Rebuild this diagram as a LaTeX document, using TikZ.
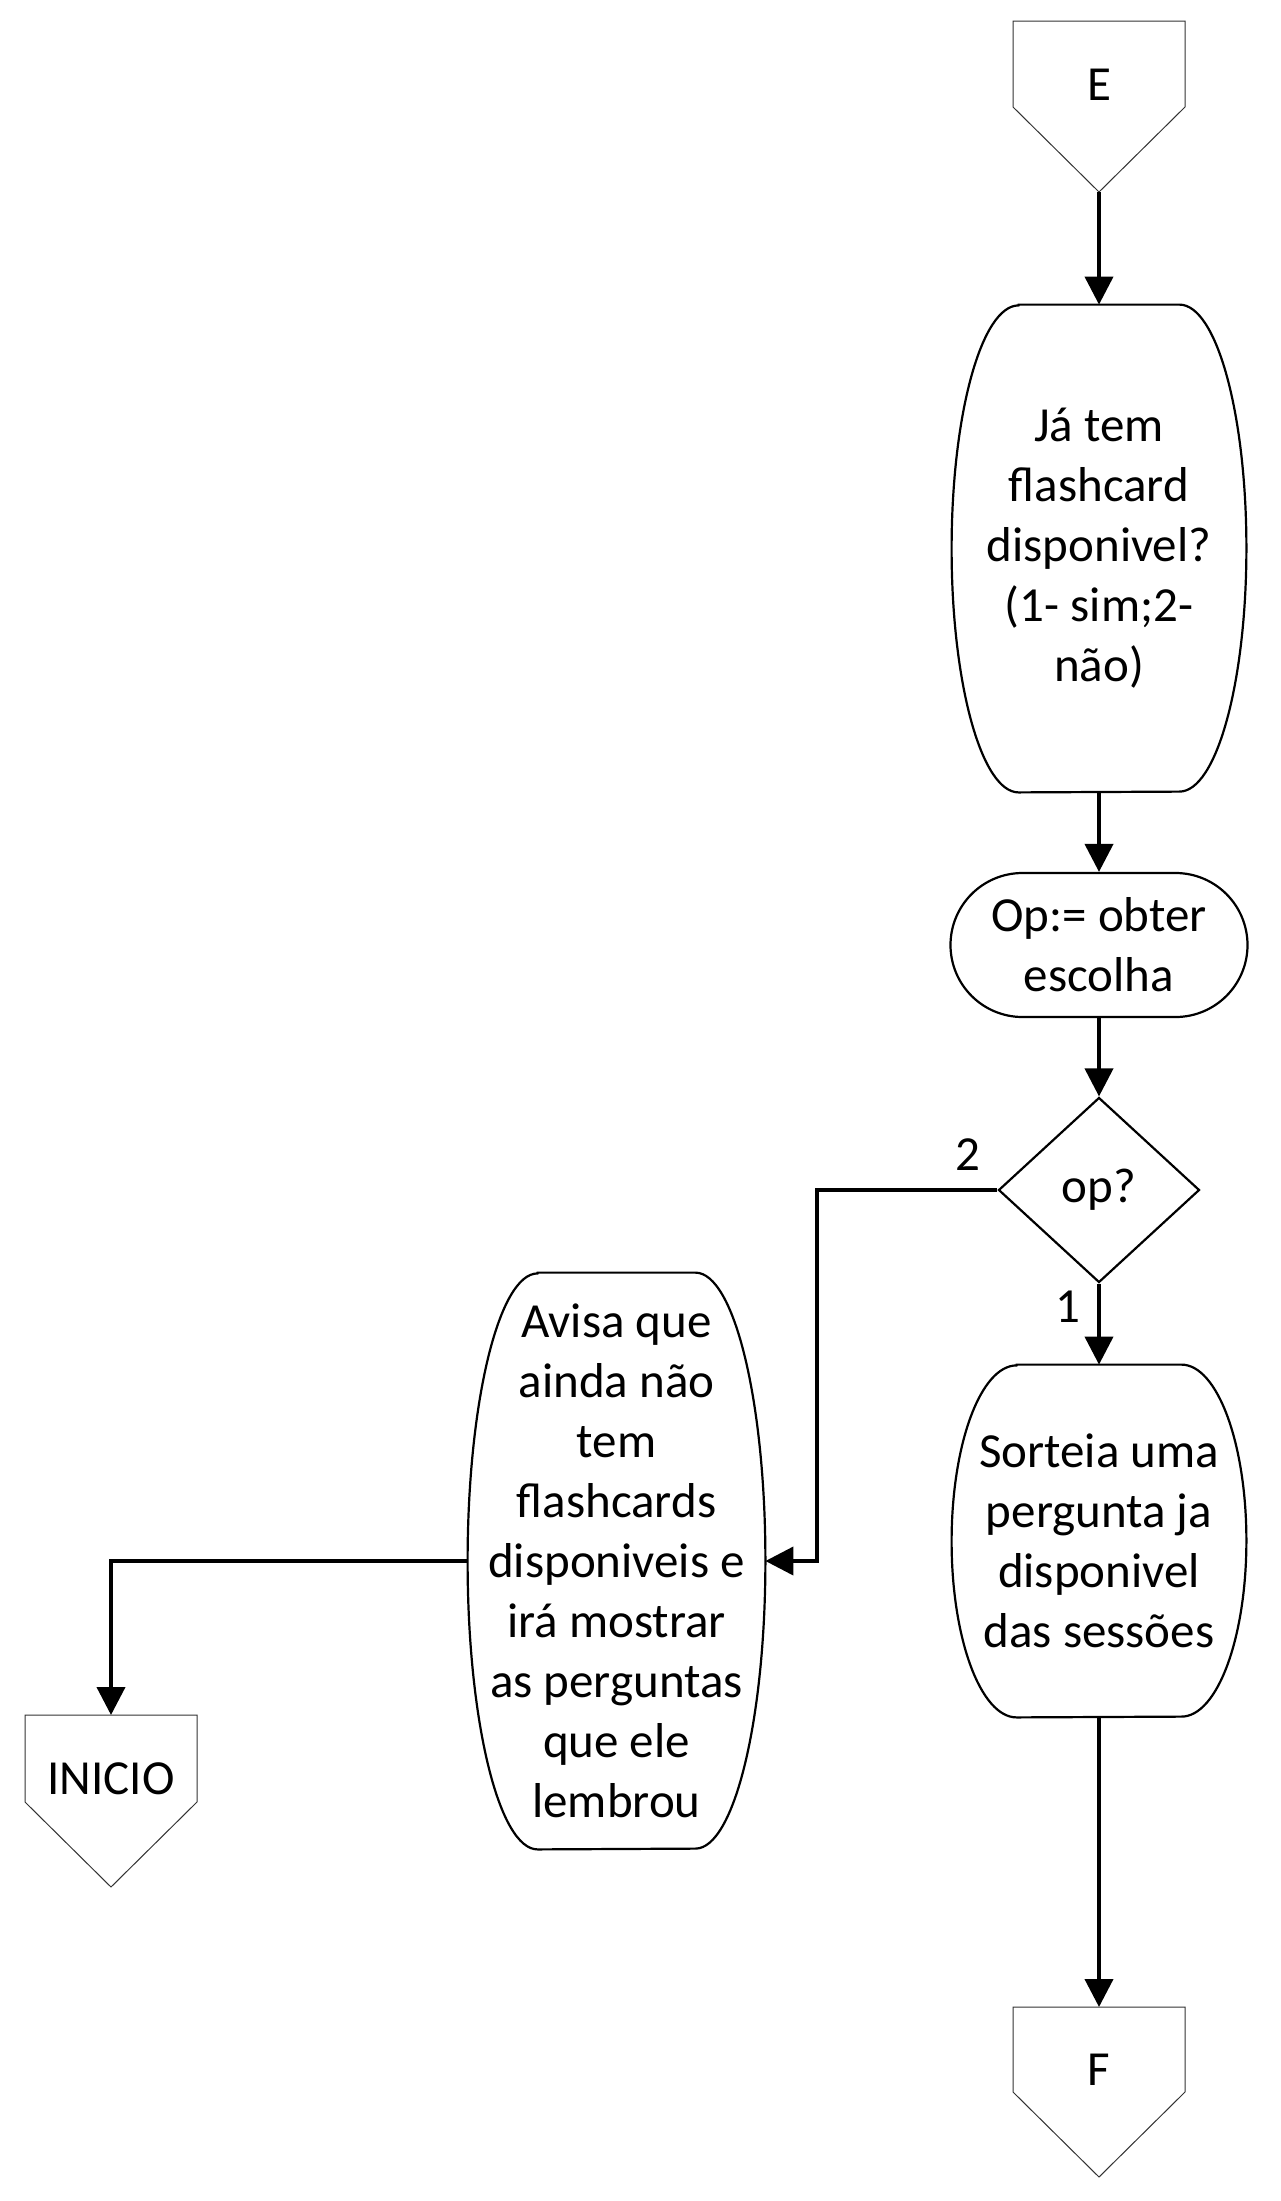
\documentclass[tikz,border=0pt]{standalone}
\usepackage{fontspec}
\setmainfont{Carlito}
\usetikzlibrary{arrows.meta,calc,shapes.geometric,shapes.misc}
\begin{document}
\begin{tikzpicture}[x=0.5pt,y=-0.5pt,
  txt/.style={font=\fontsize{24.5}{30}\selectfont, align=center, inner sep=0pt},
  conn/.style={line width=2pt, -{Triangle[length=14pt,width=14pt]}},
  boxline/.style={line width=1.1pt},
  offpage/.style={line width=0.5pt, draw=black!80},
]
\useasboundingbox[fill=white] (0,0) rectangle (1280,2201);

% E off-page connector
\draw[offpage] (1013,21) -- (1185,21) -- (1185,107) -- (1099,192) -- (1013,107) -- cycle;
\coordinate (Etip) at (1099,192);
\node[txt] (E) at (1099,85) {E};

% box 1
\node[txt, minimum width=147pt, minimum height=243.5pt] (b1) at (1099,548.5)
  {Já tem\\flashcard\\disponivel?\\(1- sim;2-\\não)};
\draw[boxline] ($(b1.north west)+(67,0)$) -- ($(b1.north east)+(-67,0)$)
  arc[start angle=90,end angle=-90,x radius=33.5pt,y radius=121.75pt]
  -- ($(b1.south west)+(67,0)$)
  arc[start angle=270,end angle=90,x radius=33.5pt,y radius=121.75pt] -- cycle;

% Op box
\node[txt, rounded rectangle, draw, line width=1.1pt, minimum width=148.5pt, minimum height=72pt] (op) at (1099,945)
  {Op:= obter\\escolha};

% decision
\node[txt, diamond, draw, line width=1.1pt, minimum width=100.5pt, minimum height=92.5pt, aspect=1.09] (d) at (1099,1190) {op?};

% Sorteia box
\node[txt, minimum width=147pt, minimum height=176pt] (sort) at (1099,1541)
  {Sorteia uma\\pergunta ja\\disponivel\\das sessões};
\draw[boxline] ($(sort.north west)+(65,0)$) -- ($(sort.north east)+(-65,0)$)
  arc[start angle=90,end angle=-90,x radius=32.5pt,y radius=88pt]
  -- ($(sort.south west)+(65,0)$)
  arc[start angle=270,end angle=90,x radius=32.5pt,y radius=88pt] -- cycle;

% Avisa box
\node[txt, minimum width=148.5pt, minimum height=288pt] (avisa) at (616.5,1561)
  {Avisa que\\ainda não\\tem\\flashcards\\disponiveis e\\irá mostrar\\as perguntas\\que ele\\lembrou};
\draw[boxline] ($(avisa.north west)+(70,0)$) -- ($(avisa.north east)+(-70,0)$)
  arc[start angle=90,end angle=-90,x radius=35pt,y radius=144pt]
  -- ($(avisa.south west)+(70,0)$)
  arc[start angle=270,end angle=90,x radius=35pt,y radius=144pt] -- cycle;

% INICIO off-page connector
\draw[offpage] (25,1715) -- (197,1715) -- (197,1802) -- (111,1887) -- (25,1802) -- cycle;
\coordinate (Itop) at (111,1715);
\node[txt] (inicio) at (111,1779) {INICIO};

% F off-page connector
\draw[offpage] (1013,2007) -- (1185,2007) -- (1185,2092) -- (1099,2177) -- (1013,2092) -- cycle;
\coordinate (Ftop) at (1099,2007);
\node[txt] (F) at (1099,2070) {F};

% connectors
\draw[conn] (Etip) -- (b1.north);
\draw[conn] (b1.south) -- (op.north);
\draw[conn] (op.south) -- (d.north);
\draw[conn] (d.south) -- (sort.north);
\coordinate (c2) at (817,1190);
\draw[conn] (d.west) -- (c2) |- (avisa.east);
\draw[conn] (avisa.west) -| (Itop);
\draw[conn] (sort.south) -- (Ftop);

% labels
\node[txt] (l2) at (968,1155) {2};
\node[txt] (l1) at (1068,1307) {1};
\end{tikzpicture}
\end{document}
